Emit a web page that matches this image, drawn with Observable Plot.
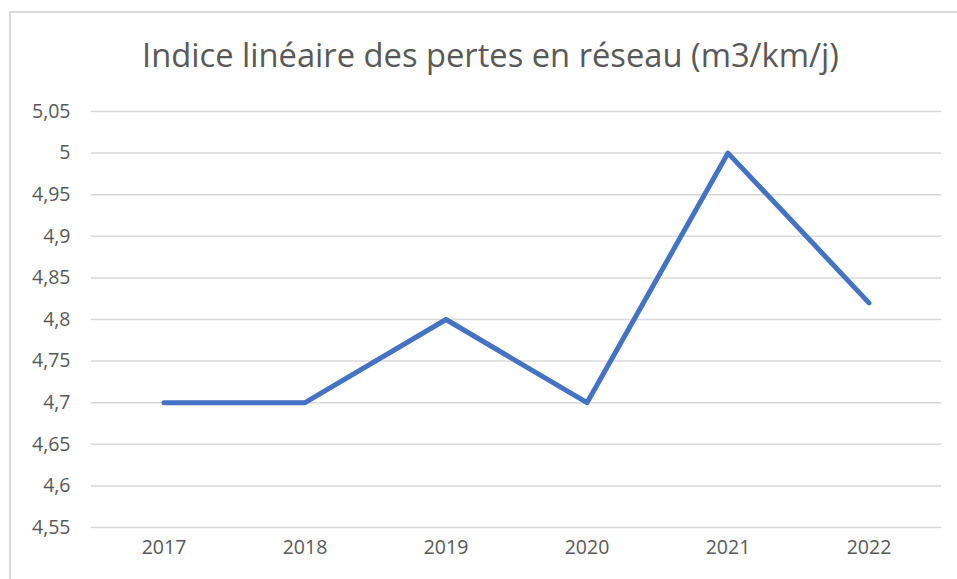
<!DOCTYPE html>
<html>
<head>
<meta charset="utf-8">
<script src="https://cdn.jsdelivr.net/npm/d3@7"></script>
<script src="https://cdn.jsdelivr.net/npm/@observablehq/plot@0.6"></script>
<style>
  html, body { margin: 0; padding: 0; background: #fff; overflow: hidden; }
  #wrap { position: relative; width: 957px; height: 579px; font-family: "Open Sans", sans-serif; }
  #frame { position: absolute; left: 9px; top: 11px; width: 1000px; height: 700px; border: 2px solid #d9d9d9; box-sizing: border-box; }
  #title { position: absolute; left: 0; top: 0; width: 957px; height: 85px; text-align: center; color: #595959; font-size: 32.7px; line-height: 110px; padding-left: 24px; box-sizing: border-box; white-space: nowrap; }
  #chart { position: absolute; left: 0; top: 85px; }
</style>
</head>
<body>
<div id="wrap">
  <div id="frame"></div>
  <div id="title">Indice linéaire des pertes en réseau (m3/km/j)</div>
  <div id="chart"></div>
</div>
<script>
const years = ["2017", "2018", "2019", "2020", "2021", "2022"];
const values = [4.7, 4.7, 4.8, 4.7, 5.0, 4.82];
const yTicks = [4.55, 4.6, 4.65, 4.7, 4.75, 4.8, 4.85, 4.9, 4.95, 5.0, 5.05];

const data = years.map((y, i) => ({year: y, value: values[i]}));
const fmt = v => String(+v.toFixed(2)).replace(".", ",");

const plot = Plot.plot({
  width: 957,
  height: 494,
  marginTop: 26,
  marginBottom: 52,
  marginLeft: 91,
  marginRight: 16,
  style: { fontFamily: "Open Sans, sans-serif", fontSize: "19.5px", color: "#595959", background: "transparent" },
  x: { type: "band", domain: years, padding: 0, label: null },
  y: { domain: [4.55, 5.05], label: null },
  marks: [
    Plot.ruleY(yTicks, { stroke: "#d9d9d9", strokeWidth: 1.5, strokeOpacity: 1 }),
    Plot.axisY({ ticks: yTicks, tickFormat: fmt, tickSize: 0, tickPadding: 21, label: null, fontSize: 19.5, fill: "#595959" }),
    Plot.axisX({ tickSize: 0, tickPadding: 13, label: null, fontSize: 19.5, fill: "#595959" }),
    Plot.line(data, { x: "year", y: "value", stroke: "#4472C4", strokeWidth: 5, strokeLinejoin: "round", strokeLinecap: "round" })
  ]
});
document.getElementById("chart").appendChild(plot);
</script>
</body>
</html>
